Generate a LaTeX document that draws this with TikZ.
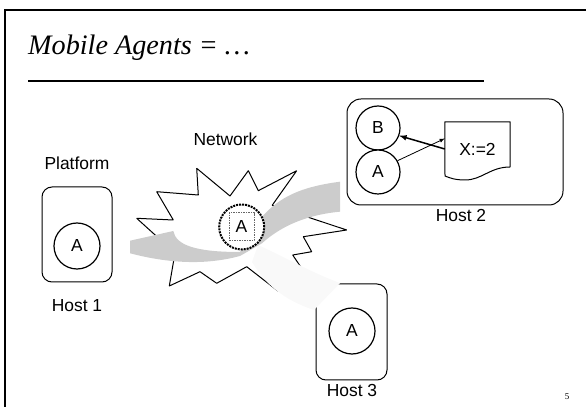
\documentclass[tikz,border=0pt]{standalone}
\usepackage{fontspec}
\setmainfont{Liberation Sans}
\newfontfamily\titlefont{Liberation Serif}
\begin{document}
\begin{tikzpicture}[>=latex,line join=bevel,
  hostbox/.style={draw,rounded corners=10bp,line width=1bp,fill=white},
  agent/.style={draw,circle,line width=1.2bp,minimum size=46bp,inner sep=0pt,fill=white,font=\fontsize{17.5}{20}\selectfont},
  lbl/.style={inner sep=0pt,font=\fontsize{17.5}{20}\selectfont},
]
\useasboundingbox (0bp,0bp) rectangle (586bp,407bp);
%%
\draw [line width=2.5bp,line join=miter] (590bp,397bp) -- (5bp,397bp) -- (5bp,-5bp);
\node (title) at (28bp,352bp) [anchor=base west,inner sep=0pt,font=\titlefont\itshape\fontsize{28.3}{32}\selectfont] {Mobile Agents = …};
\draw [line width=2bp] (28bp,326bp) -- (484bp,326bp);
%% network cloud
\draw [line width=1bp] (136.7bp,188.7bp) -- (173.3bp,187bp) -- (156.7bp,215.3bp) -- (198.3bp,212bp) -- (196.7bp,238.7bp) -- (230bp,211bp) -- (248.3bp,236.3bp) -- (258.3bp,216.3bp) -- (296.7bp,236.3bp) -- (272.2bp,201.7bp) -- (346.7bp,177bp) -- (303.3bp,170.3bp) -- (311.7bp,155.3bp) -- (292.7bp,152bp) -- (303.3bp,136.3bp) -- (285bp,132bp) -- (278bp,116bp) -- (246.7bp,140.3bp) -- (216.7bp,123.7bp) -- (200bp,135.3bp) -- (169.3bp,121bp) -- (175bp,154bp) -- cycle;
%% hosts
\node (host_1) at (77bp,172.5bp) [hostbox,minimum width=70bp,minimum height=95bp] {};
  \node (agent_1) at (77bp,161bp) [agent] {A};
\node (host_2) at (455bp,255bp) [hostbox,rounded corners=14bp,minimum width=216bp,minimum height=106bp] {};
  \node (agent_2b) at (378bp,279bp) [agent,minimum size=44bp] {B};
  \node (agent_2a) at (378bp,235bp) [agent,minimum size=44bp] {A};
  \node (doc) at (477.5bp,257.5bp) [lbl,minimum width=65bp,minimum height=55bp] {X:=2};
  \draw [line width=1bp] (doc.north west) -- (doc.north east) -- (510bp,240bp) ..controls (490bp,240bp) and (482bp,227bp) .. (465bp,227bp) ..controls (455bp,227bp) and (450bp,229bp) .. (445bp,231bp) -- cycle;
  \draw [black,->,line width=0.8bp] (agent_2a.30) -- ([yshift=11bp]doc.west);
  \draw [black,->,line width=1.5bp] ([yshift=0.5bp]doc.west) -- (agent_2b.-20);
\node (host_3) at (351.5bp,75bp) [hostbox,minimum width=71bp,minimum height=96bp] {};
  \node (agent_3) at (352bp,76bp) [agent] {A};
%% migration bands
\fill [black!2.5] (258bp,162bp) ..controls (285bp,150bp) and (310bp,135bp) .. (340bp,124bp) -- (314bp,97bp) ..controls (290bp,105bp) and (268bp,118bp) .. (252bp,145bp) -- cycle;
\fill [black!20] (130bp,166.3bp) -- (173.3bp,176bp) ..controls (176bp,162bp) and (195bp,155bp) .. (240bp,155bp) -- (262bp,190.3bp) ..controls (280bp,210bp) and (300bp,220bp) .. (340bp,225.3bp) -- (340bp,195.3bp) ..controls (305bp,192bp) and (280bp,180bp) .. (262bp,163.7bp) -- (240bp,151bp) ..controls (210bp,143bp) and (175bp,142bp) .. (130bp,153.7bp) -- cycle;
\node (net_ring) at (241.7bp,180bp) [circle,draw,densely dotted,line width=2bp,minimum size=45bp,fill=white] {};
\node (agent_net) at (241.5bp,180.3bp) [draw=black!60,dash pattern=on 1.5bp off 1bp,line width=0.7bp,fill=white,lbl,minimum width=25bp,minimum height=28bp] {A};
%% labels
\node (lbl_platform) at (77bp,244bp) [lbl] {Platform};
\node (lbl_network) at (225.5bp,268bp) [lbl] {Network};
\node (lbl_host_1) at (77bp,101.5bp) [lbl] {Host 1};
\node (lbl_host_2) at (461bp,191bp) [lbl] {Host 2};
\node (lbl_host_3) at (352bp,16.5bp) [lbl] {Host 3};
\node (page_no) at (567bp,10bp) [font=\titlefont\fontsize{9}{10}\selectfont] {5};
%
\end{tikzpicture}
\end{document}
